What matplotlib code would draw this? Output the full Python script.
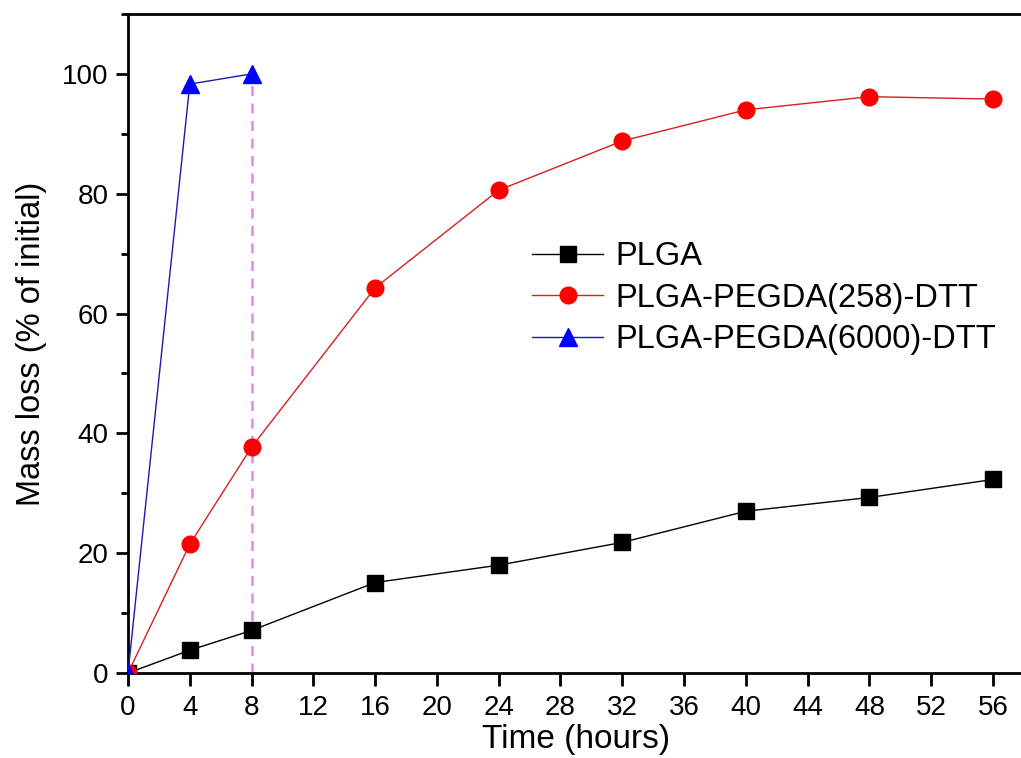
import matplotlib
matplotlib.use("Agg")
import matplotlib.pyplot as plt
from matplotlib.ticker import MultipleLocator

plt.rcParams['font.family'] = ['Liberation Sans', 'DejaVu Sans']

time_h = [0, 4, 8, 16, 24, 32, 40, 48, 56]
plga = [0, 3.8, 7.1, 15.1, 18.0, 21.8, 27.0, 29.3, 32.3]
pegda258 = [0, 21.5, 37.7, 64.3, 80.6, 88.8, 94.0, 96.2, 95.8]
time_6000 = [0, 4, 8]
pegda6000 = [0, 98.3, 100.0]
marker_time = 8
marker_top = 100

fig = plt.figure(figsize=(10.21, 7.58), dpi=100)
ax = fig.add_axes([128 / 1021, 1 - 673 / 758, 58 * 15.446 / 1021, (673 - 14) / 758])

ax.plot([marker_time, marker_time], [0, marker_top], color='#e08ae8', lw=1.8,
        ls=(0, (4, 3)), zorder=1)

ax.plot(time_h, plga, color='black', lw=1.0, marker='s', ms=11,
        mfc='black', mec='black', label='PLGA', zorder=3)
ax.plot(time_h, pegda258, color='#d62020', lw=1.0, marker='o', ms=12,
        mfc='#ff0000', mec='#ff0000', label='PLGA-PEGDA(258)-DTT', zorder=3)
ax.plot(time_6000, pegda6000, color='#1a1ab0', lw=1.0, marker='^', ms=13,
        mfc='#0000ff', mec='#0000ff', label='PLGA-PEGDA(6000)-DTT', zorder=4)

ax.set_xlim(0, 58)
ax.set_ylim(0, 110)
ax.xaxis.set_major_locator(MultipleLocator(4))
ax.yaxis.set_minor_locator(MultipleLocator(10))
ax.set_yticks([0, 20, 40, 60, 80, 100])

for side in ['left', 'bottom', 'top']:
    ax.spines[side].set_linewidth(2.0)
ax.spines['right'].set_visible(False)

ax.tick_params(axis='both', which='major', direction='out', length=9, width=2.0,
               labelsize=20)
ax.tick_params(axis='x', which='major', pad=7)
ax.tick_params(axis='y', which='major', pad=5)
ax.tick_params(axis='y', which='minor', direction='out', length=5, width=2.0)
ax.tick_params(top=False, right=False)

ax.set_xlabel('Time (hours)', fontsize=24, labelpad=2)
ax.set_ylabel('Mass loss (% of initial)', fontsize=23.5, labelpad=11)

leg = ax.legend(loc='upper left', bbox_to_anchor=(0.436, 0.675), frameon=False,
                fontsize=23.5, handlelength=2.2, handletextpad=0.35,
                labelspacing=0.32, borderaxespad=0)

fig.savefig('out.png', dpi=100)
